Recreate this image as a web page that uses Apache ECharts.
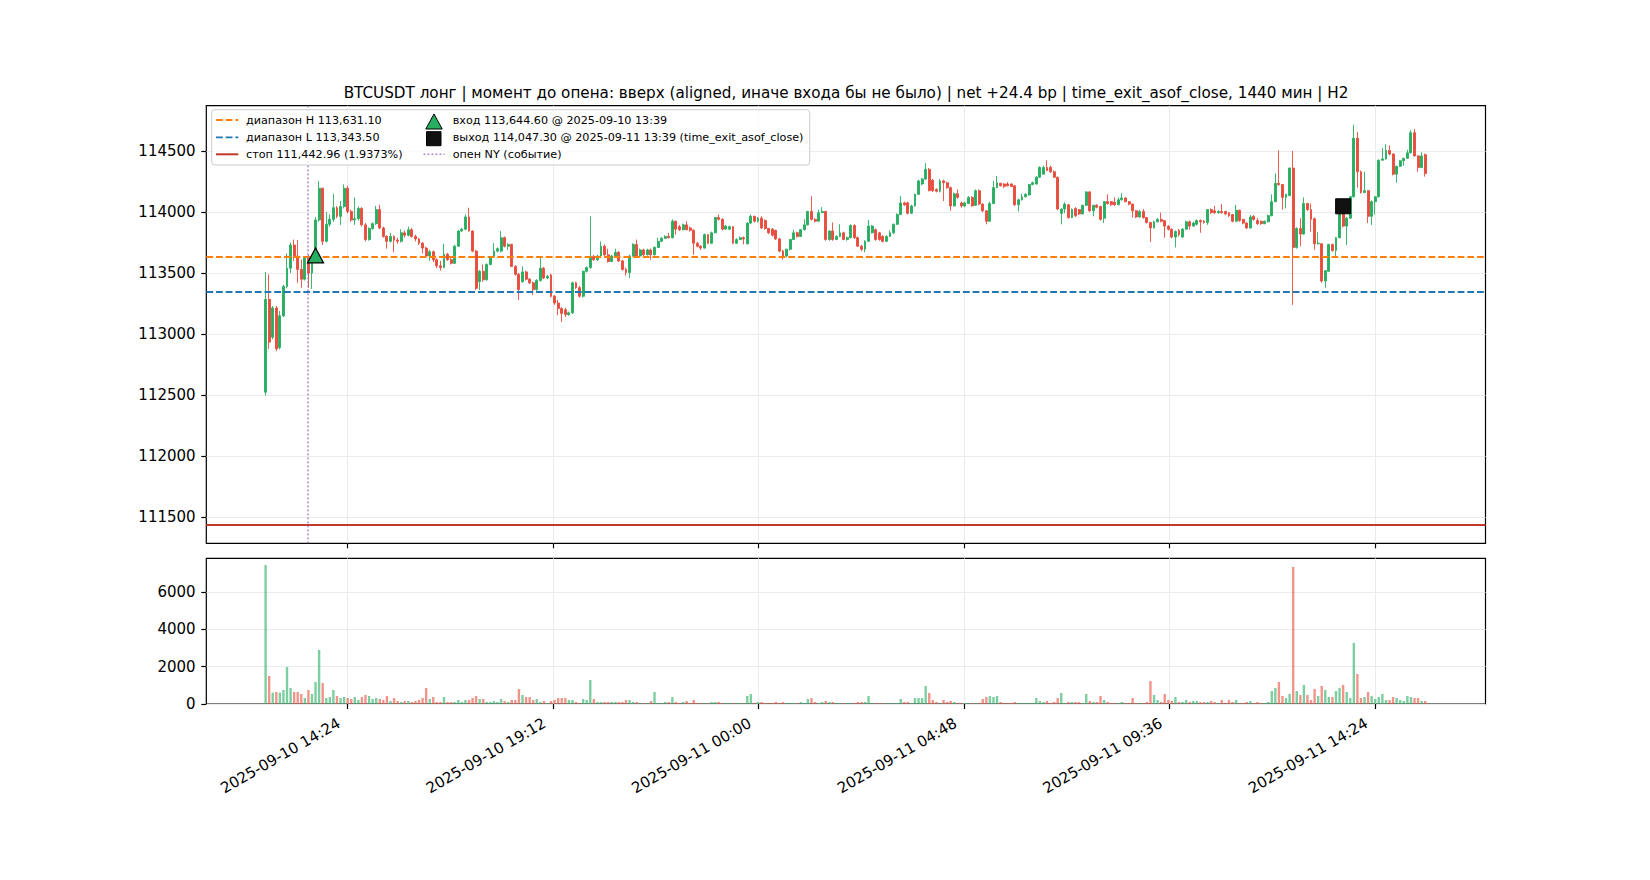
<!DOCTYPE html>
<html>
<head>
<meta charset="utf-8">
<title>BTCUSDT</title>
<script src="https://cdn.jsdelivr.net/npm/echarts@6/dist/echarts.min.js"></script>
<style>
  html, body { margin: 0; padding: 0; background: #fff; }
  #chart { width: 1650px; height: 880px; }
</style>
</head>
<body>
<div id="chart"></div>
<script>
// Time in minutes from 2025-09-10 00:00, 5 minute candles from 12:29
const startMin = 749;
const stepMin = 5;

const opens = [
  112525,113285,112975,113215,112890,113150,113390,113540,113730,113640,
  113530,113450,113635,113500,113620,113935,114195,113760,113900,113940,
  114035,113965,114045,114195,114005,113935,113945,114030,113895,113775,
  113865,113905,114020,113870,113800,113760,113800,113770,113760,113830,
  113810,113855,113800,113780,113745,113705,113640,113675,113610,113560,
  113545,113655,113610,113580,113720,113845,113860,113960,113845,113680,
  113430,113515,113445,113570,113635,113680,113680,113790,113720,113735,
  113555,113490,113430,113510,113450,113420,113365,113440,113540,113460,
  113485,113310,113255,113210,113200,113160,113175,113420,113380,113310,
  113515,113545,113635,113610,113640,113720,113650,113595,113640,113670,
  113600,113530,113505,113640,113735,113640,113690,113650,113690,113650,
  113710,113760,113785,113800,113790,113925,113880,113855,113895,113870,
  113850,113745,113720,113705,113815,113745,113830,113955,113940,113860,
  113860,113880,113745,113775,113790,113740,113910,113965,113925,113950,
  113930,113865,113860,113850,113780,113680,113640,113695,113775,113830,
  113800,113855,113895,114005,113940,113925,113995,114005,113775,113845,
  113775,113800,113830,113775,113790,113890,113790,113720,113695,113760,
  113830,113855,113830,113800,113760,113800,113830,113900,113980,114075,
  114075,113990,114050,114145,114230,114270,114350,114260,114185,114170,
  114255,114240,114200,114050,114150,114075,114050,114070,114120,114055,
  114175,114065,114010,113925,114070,114200,114235,114230,114230,114230,
  114215,114060,114100,114125,114140,114225,114230,114285,114310,114365,
  114365,114330,114285,113990,114025,114060,113955,114030,114020,113985,
  114055,114165,114010,114055,114045,113950,114085,114085,114080,114060,
  114100,114115,114085,114065,114010,113960,114005,113955,113915,113870,
  113920,113940,113930,113885,113860,113795,113850,113795,113860,113920,
  113885,113900,113930,113925,113915,114020,114010,113995,114005,114005,
  113995,113980,113925,114015,113940,113910,113870,113965,113930,113925,
  113905,113920,113970,114085,114235,114225,114120,114135,114360,113710,
  113865,113820,114070,114020,113945,113740,113740,113435,113515,113735,
  113685,113790,113985,113885,113950,114125,114605,114330,114160,114175,
  113965,114085,114125,114425,114435,114505,114475,114310,114375,114420,
  114440,114485,114650,114460,114365,114470
];

const closes = [
  113285,112935,113215,112880,113150,113390,113540,113730,113640,113530,
  113450,113635,113500,113620,113935,114195,113760,113900,113940,114035,
  113965,114045,114195,114005,113935,113945,114030,113895,113775,113865,
  113905,114020,113870,113800,113760,113800,113770,113760,113830,113810,
  113855,113800,113780,113745,113705,113640,113675,113610,113560,113545,
  113655,113610,113580,113720,113845,113860,113960,113845,113680,113375,
  113515,113445,113570,113635,113680,113700,113790,113720,113735,113555,
  113490,113365,113510,113450,113420,113365,113440,113540,113460,113475,
  113310,113255,113210,113170,113160,113175,113420,113380,113310,113515,
  113545,113635,113610,113640,113720,113650,113595,113640,113670,113600,
  113530,113505,113640,113735,113640,113690,113650,113690,113650,113710,
  113760,113785,113800,113790,113925,113860,113855,113895,113855,113850,
  113745,113720,113705,113815,113745,113830,113955,113940,113860,113885,
  113880,113745,113775,113790,113780,113910,113965,113925,113950,113870,
  113865,113830,113810,113780,113680,113640,113695,113775,113830,113800,
  113855,113895,114005,113940,113925,113995,114005,113775,113845,113775,
  113800,113830,113775,113790,113890,113790,113720,113695,113760,113885,
  113885,113775,113775,113760,113800,113830,113900,113980,114075,114060,
  113990,114050,114145,114255,114270,114350,114175,114175,114170,114255,
  114240,114200,114050,114150,114120,114050,114075,114120,114050,114175,
  114065,114010,113925,114070,114200,114240,114215,114210,114215,114210,
  114060,114100,114125,114145,114225,114240,114285,114365,114365,114340,
  114330,114285,114025,114025,114065,113955,114020,113970,113985,114055,
  114165,114010,114055,114040,113940,114085,114070,114060,114060,114100,
  114115,114085,114065,114010,113960,114005,113955,113915,113870,113920,
  113940,113925,113885,113860,113795,113840,113815,113860,113920,113885,
  113910,113930,113920,113915,114020,113995,113995,114005,113995,113985,
  113970,113925,114015,113930,113910,113870,113960,113940,113905,113905,
  113925,113970,114085,114235,114225,114120,114145,114360,113710,113865,
  113820,114070,114020,113940,113740,113745,113435,113520,113735,113685,
  113790,113985,113885,113950,114125,114605,114330,114160,114175,113965,
  114085,114125,114425,114435,114505,114475,114310,114375,114420,114440,
  114485,114650,114460,114365,114460,114315
];

const lows = [
  112498,112880,112960,112860,112875,113140,113375,113500,113600,113420,
  113380,113440,113380,113370,113600,113920,113730,113750,113880,113920,
  113950,113895,114030,113990,113920,113895,113930,113880,113760,113765,
  113855,113895,113860,113790,113700,113750,113670,113740,113750,113790,
  113800,113790,113760,113730,113660,113630,113600,113590,113540,113520,
  113540,113600,113570,113575,113715,113835,113850,113840,113670,113360,
  113360,113430,113440,113565,113630,113670,113670,113710,113690,113550,
  113480,113280,113420,113440,113410,113320,113355,113430,113450,113450,
  113300,113240,113155,113100,113140,113150,113165,113370,113300,113300,
  113505,113535,113600,113600,113635,113640,113585,113590,113630,113590,
  113520,113480,113460,113635,113630,113630,113640,113645,113610,113645,
  113705,113755,113780,113785,113785,113815,113845,113850,113850,113840,
  113650,113710,113690,113700,113740,113740,113825,113930,113850,113855,
  113855,113740,113740,113770,113735,113735,113900,113915,113915,113860,
  113855,113820,113800,113770,113670,113610,113630,113685,113770,113790,
  113795,113850,113890,113930,113915,113920,113990,113765,113765,113765,
  113770,113795,113770,113765,113785,113780,113715,113680,113670,113755,
  113825,113765,113765,113750,113755,113795,113820,113895,113975,114050,
  113980,113985,114045,114140,114220,114265,114170,114165,114160,114160,
  114090,114190,114010,114045,114110,114035,114040,114065,114045,114050,
  114055,114000,113900,113920,114065,114195,114210,114195,114210,114205,
  114050,114005,114095,114120,114135,114220,114225,114280,114305,114335,
  114320,114280,114015,113900,113990,113945,113950,113960,113975,113980,
  114050,114000,113965,114030,113930,113910,114060,114050,114050,114055,
  114095,114080,114055,113955,113950,113955,113945,113905,113755,113865,
  113915,113915,113790,113850,113785,113710,113800,113790,113855,113855,
  113880,113890,113830,113905,113895,113985,113985,113985,113985,113975,
  113960,113915,113920,113920,113900,113860,113865,113930,113895,113895,
  113900,113915,113965,114080,114215,114020,114030,114130,113240,113700,
  113720,113815,114010,113840,113690,113735,113420,113380,113510,113675,
  113625,113785,113875,113730,113945,114120,114200,114150,114155,113910,
  113895,113980,114120,114420,114430,114465,114300,114240,114370,114380,
  114435,114480,114455,114330,114360,114290
];

const highs = [
  113510,113490,113230,113230,113190,113405,113660,113750,113775,113770,
  113610,113640,113650,113650,113960,114255,114200,114000,113980,114150,
  114050,114090,114225,114215,114020,114120,114045,114040,113910,113875,
  113915,114050,114060,113880,113810,113830,113810,113790,113860,113850,
  113880,113870,113815,113790,113755,113715,113690,113685,113620,113600,
  113740,113665,113625,113730,113850,113870,113980,114035,113850,113690,
  113525,113570,113580,113640,113745,113710,113845,113800,113745,113740,
  113565,113500,113555,113520,113460,113430,113450,113635,113550,113485,
  113495,113320,113280,113220,113215,113185,113430,113430,113395,113520,
  113555,113965,113650,113650,113760,113735,113700,113650,113700,113680,
  113610,113545,113650,113745,113775,113700,113700,113700,113700,113720,
  113790,113795,113810,113830,113940,113930,113895,113905,113925,113880,
  113860,113755,113730,113825,113820,113840,113960,113980,113950,113895,
  113890,113885,113785,113800,113800,113915,113980,113970,113960,113965,
  113940,113870,113870,113855,113790,113690,113700,113780,113855,113840,
  113860,113940,114010,114130,113950,114020,114040,114010,113850,113915,
  113810,113900,113840,113800,113900,113900,113800,113730,113770,113935,
  113895,113865,113835,113810,113810,113850,113905,113990,114130,114085,
  114085,114060,114150,114265,114280,114400,114360,114270,114195,114270,
  114265,114250,114210,114160,114185,114085,114085,114130,114130,114185,
  114185,114070,114015,114085,114255,114295,114240,114235,114245,114235,
  114220,114110,114150,114155,114230,114250,114295,114375,114380,114425,
  114380,114340,114290,114030,114080,114065,114030,114040,114025,114060,
  114170,114170,114060,114065,114050,114090,114145,114090,114120,114120,
  114155,114120,114090,114070,114015,114015,114025,113960,113920,113930,
  113950,113995,113935,113890,113865,113850,113860,113870,113930,113930,
  113920,113940,113940,113935,114025,114030,114050,114015,114065,114010,
  114000,113985,114060,114020,113945,113915,113975,113975,113950,113930,
  113930,113980,114145,114315,114505,114230,114150,114365,114500,113875,
  113950,114120,114075,114070,113955,113835,113745,113525,113740,113740,
  113795,114020,114020,113960,114130,114715,114655,114340,114330,114180,
  114095,114130,114430,114525,114555,114545,114480,114380,114425,114445,
  114510,114670,114680,114465,114490,114480
];

const volumes = [
  7447,1500,607,643,607,750,1982,857,643,643,
  536,321,750,536,1179,2893,1125,321,375,750,
  429,321,375,321,268,375,214,375,482,429,
  268,321,268,214,429,161,321,161,107,161,
  161,107,161,214,321,857,268,375,107,107,
  375,107,107,107,214,107,214,214,321,429,
  268,268,107,107,161,107,268,161,107,214,
  214,804,482,375,375,214,268,107,161,54,
  161,214,321,321,321,214,214,107,54,268,
  214,1286,268,107,107,107,107,107,107,107,
  107,214,214,107,107,54,
  54,54,161,643,54,54,107,107,375,107,54,
  107,161,54,214,54,54,54,30,107,107,
  107,54,54,54,54,54,54,30,429,536,
  54,107,107,54,54,54,107,54,107,54,
  54,54,54,107,54,268,321,107,54,107,
  161,107,107,54,54,54,54,54,54,107,
  107,107,429,54,54,30,30,54,30,54,
  54,268,107,107,54,321,321,321,964,589,
  214,107,54,214,107,161,107,54,54,54,
  54,54,54,54,268,375,429,375,429,107,
  54,54,54,107,54,54,54,54,54,321,
  161,107,161,54,107,321,
  589,54,107,107,107,107,54,536,161,107,
  107,429,214,107,54,54,54,107,54,54,
  321,54,54,54,107,1232,482,214,107,536,
  214,161,375,107,107,214,107,161,161,107,
  107,107,161,107,54,214,54,214,107,214,
  54,54,107,161,54,107,54,54,107,697,
  857,1179,429,321,536,7340,697,482,1018,482,
  214,804,429,964,750,375,375,697,857,1018,
  643,321,3268,1607,321,375,643,429,268,375,
  536,214,214,375,321,214,161,429,375,321,
  321,161,161
];

// Axis ticks
const xTicks = [864, 1152, 1440, 1728, 2016, 2304];
const xTickLabels = ['2025-09-10 14:24', '2025-09-10 19:12', '2025-09-11 00:00',
                     '2025-09-11 04:48', '2025-09-11 09:36', '2025-09-11 14:24'];
const priceTicks = [111500, 112000, 112500, 113000, 113500, 114000, 114500];
const volumeTicks = [0, 2000, 4000, 6000];

// Levels and events
const rangeHigh = 113631.10;
const rangeLow = 113343.50;
const stopPrice = 111442.96;
const nyOpenMin = 808;          // open NY line
const entryMin = 819;           // 2025-09-10 13:39
const entryPrice = 113644.60;
const exitMin = 2259;           // 2025-09-11 13:39
const exitPrice = 114047.30;

const titleText = 'BTCUSDT лонг | момент до опена: вверх (aligned, иначе входа бы не было) | net +24.4 bp | time_exit_asof_close, 1440 мин | H2';

const UP = '#27ae60';
const DOWN = '#e74c3c';
const UP_VOL = 'rgba(39,174,96,0.6)';
const DOWN_VOL = 'rgba(231,76,60,0.6)';
const FONT = 'DejaVu Sans';

// Build series data
const candleData = [];
const volumeData = [];
opens.forEach(function (o, i) {
  const t = startMin + i * stepMin;
  const c = closes[i];
  candleData.push([t, o, c, Math.min(lows[i], o, c), Math.max(highs[i], o, c)]);
  volumeData.push({
    value: [t, volumes[i]],
    itemStyle: { color: c >= o ? UP_VOL : DOWN_VOL }
  });
});

const gridLine = { show: true, lineStyle: { color: '#ebebeb', width: 1 } };
const tickStyle = { color: '#000', width: 1.2 };
const labelStyle = { fontFamily: FONT, fontSize: 15, color: '#000' };
const plainNumber = function (v) { return String(v); };

// Legend (drawn by hand, matplotlib style, two columns)
const rows = [120, 137.3, 154.3];
const col1Text = ['диапазон H 113,631.10', 'диапазон L 113,343.50', 'стоп 111,442.96 (1.9373%)'];
const col2Text = ['вход 113,644.60 @ 2025-09-10 13:39',
                  'выход 114,047.30 @ 2025-09-11 13:39 (time_exit_asof_close)',
                  'опен NY (событие)'];
const legendFont = { fontFamily: FONT, fontSize: 11.2, fill: '#000' };

const graphics = [
  {
    type: 'text', x: 846, y: 92.5, z: 10,
    style: { text: titleText, fontFamily: FONT, fontSize: 15.2, fill: '#000', textAlign: 'center', textVerticalAlign: 'middle' }
  },
  {
    type: 'rect', z: 20,
    shape: { x: 211.7, y: 109.7, width: 598, height: 55.3, r: 3 },
    style: { fill: 'rgba(255,255,255,0.8)', stroke: '#cccccc', lineWidth: 1 }
  },
  { type: 'line', z: 21, shape: { x1: 216, y1: rows[0], x2: 238.3, y2: rows[0] },
    style: { stroke: '#ff7f0e', lineWidth: 1.8, lineDash: [6.8, 2.9] } },
  { type: 'line', z: 21, shape: { x1: 216, y1: rows[1], x2: 238.3, y2: rows[1] },
    style: { stroke: '#1f77b4', lineWidth: 1.8, lineDash: [6.8, 2.9] } },
  { type: 'line', z: 21, shape: { x1: 216, y1: rows[2], x2: 238.3, y2: rows[2] },
    style: { stroke: '#c0392b', lineWidth: 2 } },
  { type: 'polygon', z: 21, shape: { points: [[425.8, 129], [442.2, 129], [434, 114]] },
    style: { fill: UP, stroke: '#000', lineWidth: 1 } },
  { type: 'rect', z: 21, shape: { x: 426.5, y: 131.7, width: 14.5, height: 14 },
    style: { fill: '#111', stroke: '#000', lineWidth: 1 } },
  { type: 'line', z: 21, shape: { x1: 423.5, y1: rows[2], x2: 444.5, y2: rows[2] },
    style: { stroke: 'rgba(148,103,189,0.85)', lineWidth: 1.5, lineDash: [1.8, 2.2] } }
];
col1Text.forEach(function (t, k) {
  graphics.push({ type: 'text', z: 21, x: 246, y: rows[k],
    style: Object.assign({ text: t, textVerticalAlign: 'middle' }, legendFont) });
});
col2Text.forEach(function (t, k) {
  graphics.push({ type: 'text', z: 21, x: 452.7, y: rows[k],
    style: Object.assign({ text: t, textVerticalAlign: 'middle' }, legendFont) });
});

const chart = echarts.init(document.getElementById('chart'), null, { renderer: 'svg' });

chart.setOption({
  animation: false,
  backgroundColor: '#fff',
  grid: [
    { left: 206.3, top: 105.7, width: 1279.2, height: 437.6, show: true, borderColor: '#000', borderWidth: 1.2 },
    { left: 206.3, top: 558.3, width: 1279.2, height: 145.7, show: true, borderColor: '#000', borderWidth: 1.2 }
  ],
  xAxis: [
    {
      type: 'value', gridIndex: 0, min: 665.9, max: 2458.5,
      axisLine: { show: false },
      axisTick: { show: true, length: 5, customValues: xTicks, lineStyle: tickStyle },
      axisLabel: { show: false, customValues: xTicks },
      splitLine: gridLine
    },
    {
      type: 'value', gridIndex: 1, min: 665.9, max: 2458.5,
      axisLine: { show: false },
      axisTick: { show: true, length: 5, customValues: xTicks, lineStyle: tickStyle },
      axisLabel: Object.assign({
        customValues: xTicks, rotate: 30, margin: 13, padding: [0, 10, 0, 0],
        formatter: function (v) { return xTickLabels[xTicks.indexOf(v)] || ''; }
      }, labelStyle),
      splitLine: gridLine
    }
  ],
  yAxis: [
    {
      type: 'value', gridIndex: 0, min: 111287, max: 114871,
      axisLine: { show: false },
      axisTick: { show: true, length: 5, customValues: priceTicks, lineStyle: tickStyle },
      axisLabel: Object.assign({ customValues: priceTicks, margin: 10.7, formatter: plainNumber }, labelStyle),
      splitLine: gridLine
    },
    {
      type: 'value', gridIndex: 1, min: 0, max: 7805,
      axisLine: { show: false },
      axisTick: { show: true, length: 5, customValues: volumeTicks, lineStyle: tickStyle },
      axisLabel: Object.assign({ customValues: volumeTicks, margin: 10.7, formatter: plainNumber }, labelStyle),
      splitLine: gridLine
    }
  ],
  series: [
    {
      type: 'candlestick',
      xAxisIndex: 0, yAxisIndex: 0,
      data: candleData,
      encode: { x: 0, y: [1, 2, 3, 4] },
      barWidth: 2.4,
      silent: true,
      itemStyle: { color: UP, color0: DOWN, borderColor: UP, borderColor0: DOWN, borderWidth: 0.9 },
      markLine: {
        silent: true,
        symbol: ['none', 'none'],
        label: { show: false },
        animation: false,
        data: [
          { yAxis: rangeHigh, lineStyle: { color: '#ff7f0e', width: 1.8, type: [6.8, 2.9], opacity: 1 } },
          { yAxis: rangeLow, lineStyle: { color: '#1f77b4', width: 1.8, type: [6.8, 2.9], opacity: 1 } },
          { yAxis: stopPrice, lineStyle: { color: '#c0392b', width: 1.8, type: 'solid', opacity: 1 } },
          { xAxis: nyOpenMin, lineStyle: { color: '#9467bd', width: 1.5, type: [1.8, 2.2], opacity: 0.85 } }
        ]
      },
      z: 2
    },
    {
      type: 'scatter',
      xAxisIndex: 0, yAxisIndex: 0,
      data: [[entryMin, entryPrice]],
      symbol: 'triangle',
      symbolSize: [16, 15],
      silent: true,
      itemStyle: { color: UP, borderColor: '#000', borderWidth: 1.2, opacity: 1 },
      z: 5
    },
    {
      type: 'scatter',
      xAxisIndex: 0, yAxisIndex: 0,
      data: [[exitMin, exitPrice]],
      symbol: 'rect',
      symbolSize: 15,
      silent: true,
      itemStyle: { color: '#111', borderColor: '#000', borderWidth: 1, opacity: 1 },
      z: 5
    },
    {
      type: 'bar',
      xAxisIndex: 1, yAxisIndex: 1,
      data: volumeData,
      barWidth: 2.4,
      silent: true
    }
  ],
  graphic: graphics
});
</script>
</body>
</html>
